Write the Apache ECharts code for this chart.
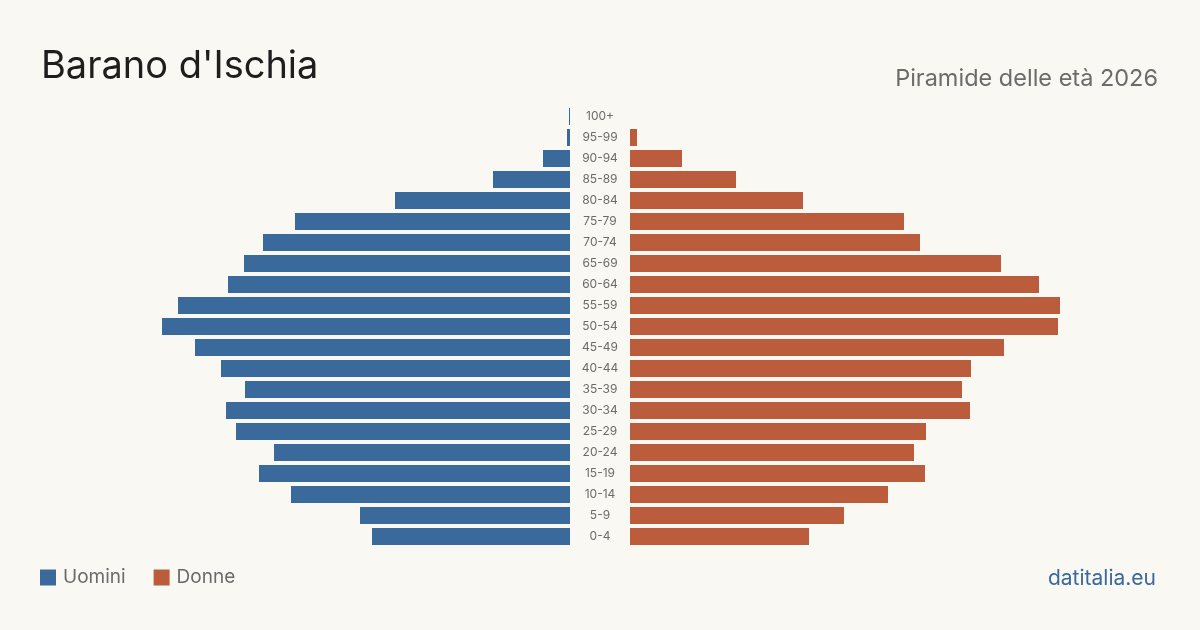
<!DOCTYPE html>
<html>
<head>
<meta charset="utf-8">
<title>Barano d'Ischia - Piramide delle età 2026</title>
<script src="https://cdn.jsdelivr.net/npm/echarts@6/dist/echarts.min.js"></script>
<style>
  html, body { margin: 0; padding: 0; background: #f9f8f3; }
  #chart { width: 1200px; height: 630px; }
</style>
</head>
<body>
<div id="chart"></div>
<script>
// fasce d'età, dal basso verso l'alto
const ageGroups = ['0-4', '5-9', '10-14', '15-19', '20-24', '25-29', '30-34', '35-39', '40-44', '45-49',
  '50-54', '55-59', '60-64', '65-69', '70-74', '75-79', '80-84', '85-89', '90-94', '95-99', '100+'];
const uomini = [198, 210, 279, 311, 296, 334, 344, 325, 349, 375,
  408, 392, 342, 326, 307, 275, 175, 77, 27, 3, 1];
const donne = [179, 214, 258, 295, 284, 296, 340, 332, 341, 374,
  428, 430, 409, 371, 290, 274, 173, 106, 52, 7, 0];

const maxVal = 430;
const blu = '#3a6a9c';
const arancio = '#bb5c3c';

const myChart = echarts.init(document.getElementById('chart'));
myChart.setOption({
  backgroundColor: '#f9f8f3',
  animation: false,
  textStyle: { fontFamily: 'Inter, "Liberation Sans", sans-serif' },
  title: [
    {
      text: "Barano d'Ischia",
      left: 36, top: 43,
      textStyle: { fontSize: 38, fontWeight: 'normal', color: '#1e1e1e' }
    },
    {
      text: 'Piramide delle età 2026',
      right: 37, top: 62,
      textStyle: { fontSize: 23.5, fontWeight: 'normal', color: '#6b6b6b' }
    },
    {
      text: 'datitalia.eu',
      right: 39, top: 563,
      textStyle: { fontSize: 21, fontWeight: 'normal', color: blu }
    }
  ],
  legend: {
    left: 35, top: 563,
    itemWidth: 16, itemHeight: 16, itemGap: 28,
    icon: 'rect',
    textStyle: { fontSize: 19, color: '#6b6b6b', padding: [0, 0, 0, 2] },
    data: ['Uomini', 'Donne']
  },
  grid: [
    { left: 140, width: 430, top: 106, height: 441 },
    { left: 630, width: 430, top: 106, height: 441 }
  ],
  xAxis: [
    { type: 'value', gridIndex: 0, min: 0, max: maxVal, inverse: true, show: false },
    { type: 'value', gridIndex: 1, min: 0, max: maxVal, show: false }
  ],
  yAxis: [
    { type: 'category', gridIndex: 0, data: ageGroups, show: false },
    {
      type: 'category', gridIndex: 1, data: ageGroups, position: 'left',
      axisLine: { show: false }, axisTick: { show: false }, splitLine: { show: false },
      axisLabel: { align: 'center', margin: 30, fontSize: 12, color: '#6b6b6b', padding: [2, 0, 0, 0] }
    }
  ],
  series: [
    {
      name: 'Uomini', type: 'bar', xAxisIndex: 0, yAxisIndex: 0,
      data: uomini, barWidth: 17, itemStyle: { color: blu }
    },
    {
      name: 'Donne', type: 'bar', xAxisIndex: 1, yAxisIndex: 1,
      data: donne, barWidth: 17, itemStyle: { color: arancio }
    }
  ]
});
</script>
</body>
</html>
